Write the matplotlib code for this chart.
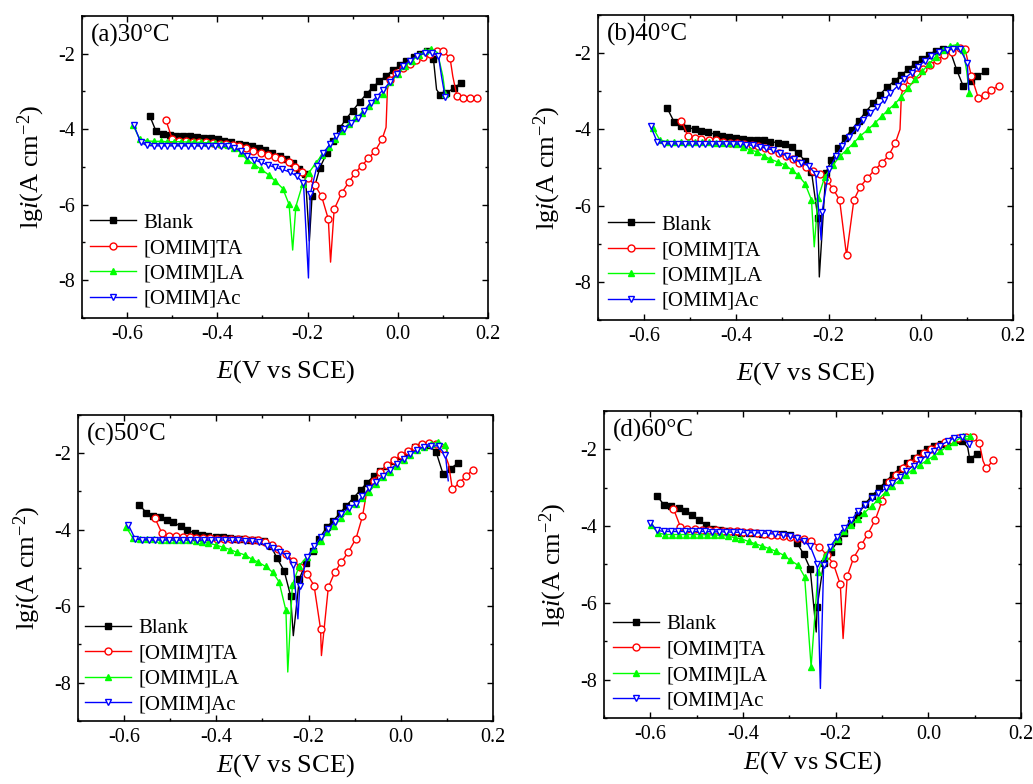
import matplotlib
matplotlib.use("Agg")
import matplotlib.pyplot as plt
from matplotlib.ticker import MultipleLocator

plt.rcParams['font.family'] = 'Liberation Serif'
plt.rcParams['mathtext.fontset'] = 'custom'
plt.rcParams['mathtext.rm'] = 'Liberation Serif'
plt.rcParams['mathtext.it'] = 'Liberation Serif:italic'
plt.rcParams['axes.unicode_minus'] = False

# ---- Tafel data: (E / V vs SCE, lg i) at the plotted symbols ----
# *_tip lists are points on the curve that carry no symbol (Ecorr spikes, jumps)

# (a) 30 C
a_blank = [(-0.550, -3.64), (-0.536, -4.05), (-0.520, -4.12), (-0.506, -4.15), (-0.492, -4.17),
           (-0.476, -4.18), (-0.461, -4.19), (-0.445, -4.20), (-0.430, -4.22), (-0.415, -4.24),
           (-0.399, -4.27), (-0.385, -4.30), (-0.369, -4.35), (-0.353, -4.38), (-0.338, -4.41),
           (-0.323, -4.44), (-0.308, -4.49), (-0.294, -4.54), (-0.279, -4.62), (-0.262, -4.70),
           (-0.247, -4.79), (-0.232, -4.90), (-0.218, -5.04), (-0.205, -5.19), (-0.190, -5.77),
           (-0.173, -5.03), (-0.157, -4.62), (-0.143, -4.30), (-0.129, -3.98), (-0.115, -3.73),
           (-0.100, -3.51), (-0.084, -3.27), (-0.069, -3.06), (-0.056, -2.89), (-0.041, -2.73),
           (-0.026, -2.58), (-0.011, -2.44), (0.004, -2.31), (0.018, -2.20), (0.035, -2.09),
           (0.049, -2.01), (0.064, -1.93), (0.079, -2.13), (0.094, -3.09), (0.108, -3.03),
           (0.125, -2.91), (0.140, -2.77)]
a_blank_tip = [(-0.196, -6.96), (0.086, -2.95)]

a_ta = [(-0.514, -3.76), (-0.500, -4.26), (-0.485, -4.30), (-0.470, -4.32), (-0.455, -4.33),
        (-0.440, -4.34), (-0.425, -4.35), (-0.410, -4.36), (-0.395, -4.38), (-0.380, -4.40),
        (-0.365, -4.42), (-0.351, -4.45), (-0.337, -4.49), (-0.320, -4.57), (-0.303, -4.64),
        (-0.287, -4.69), (-0.273, -4.74), (-0.258, -4.78), (-0.242, -4.86), (-0.227, -5.00),
        (-0.212, -5.13), (-0.198, -5.30), (-0.184, -5.48), (-0.169, -5.77), (-0.154, -6.38),
        (-0.141, -6.12), (-0.124, -5.68), (-0.109, -5.41), (-0.095, -5.16), (-0.080, -4.97),
        (-0.065, -4.77), (-0.050, -4.57), (-0.035, -4.27), (-0.018, -2.70), (-0.004, -2.52),
        (0.011, -2.38), (0.026, -2.26), (0.041, -2.16), (0.057, -2.08), (0.072, -2.01),
        (0.086, -1.92), (0.101, -1.93), (0.116, -2.12), (0.131, -3.11), (0.145, -3.17),
        (0.160, -3.18), (0.176, -3.18)]
a_ta_tip = [(-0.149, -7.52), (-0.026, -3.95), (-0.023, -2.95), (0.122, -2.60)]

a_la = [(-0.587, -3.89), (-0.572, -4.26), (-0.556, -4.31), (-0.541, -4.32), (-0.526, -4.32),
        (-0.511, -4.33), (-0.496, -4.33), (-0.481, -4.33), (-0.466, -4.34), (-0.451, -4.34),
        (-0.436, -4.35), (-0.421, -4.36), (-0.406, -4.37), (-0.391, -4.39), (-0.377, -4.42),
        (-0.362, -4.50), (-0.348, -4.62), (-0.334, -4.81), (-0.318, -4.94), (-0.303, -5.06),
        (-0.286, -5.21), (-0.272, -5.37), (-0.255, -5.57), (-0.241, -5.99), (-0.226, -6.05),
        (-0.211, -5.45), (-0.197, -5.15), (-0.182, -4.90), (-0.168, -4.68), (-0.153, -4.47),
        (-0.139, -4.25), (-0.124, -4.05), (-0.109, -3.85), (-0.094, -3.70), (-0.079, -3.56),
        (-0.064, -3.39), (-0.048, -3.22), (-0.033, -3.06), (-0.017, -2.76), (0.001, -2.53),
        (0.016, -2.33), (0.032, -2.18), (0.047, -2.04), (0.061, -1.93), (0.074, -1.87),
        (0.105, -3.06)]
a_la_tip = [(-0.233, -7.20), (0.088, -1.97), (0.100, -2.60)]

a_ac = [(-0.585, -3.89), (-0.570, -4.35), (-0.556, -4.43), (-0.541, -4.44), (-0.526, -4.44),
        (-0.511, -4.44), (-0.496, -4.44), (-0.481, -4.44), (-0.466, -4.44), (-0.451, -4.44),
        (-0.436, -4.44), (-0.421, -4.44), (-0.406, -4.44), (-0.391, -4.44), (-0.377, -4.45),
        (-0.363, -4.49), (-0.348, -4.58), (-0.334, -4.70), (-0.318, -4.81), (-0.303, -4.88),
        (-0.287, -4.95), (-0.272, -5.01), (-0.257, -5.06), (-0.240, -5.13), (-0.224, -5.24),
        (-0.209, -5.43), (-0.194, -5.72), (-0.179, -4.97), (-0.165, -4.63), (-0.150, -4.39),
        (-0.137, -4.19), (-0.120, -3.99), (-0.104, -3.84), (-0.089, -3.71), (-0.075, -3.51),
        (-0.060, -3.30), (-0.047, -3.14), (-0.032, -2.95), (-0.017, -2.75), (-0.002, -2.53),
        (0.012, -2.33), (0.027, -2.18), (0.042, -2.06), (0.060, -1.98), (0.075, -1.97),
        (0.090, -2.05), (0.105, -3.15)]
a_ac_tip = [(-0.198, -7.94), (0.097, -2.60)]

# (b) 40 C
b_blank = [(-0.550, -3.44), (-0.535, -3.80), (-0.521, -3.91), (-0.507, -3.95), (-0.490, -3.99),
           (-0.476, -4.03), (-0.461, -4.08), (-0.445, -4.13), (-0.430, -4.17), (-0.416, -4.21),
           (-0.400, -4.23), (-0.385, -4.26), (-0.371, -4.28), (-0.356, -4.29), (-0.340, -4.29),
           (-0.326, -4.32), (-0.309, -4.35), (-0.295, -4.38), (-0.280, -4.47), (-0.266, -4.63),
           (-0.251, -4.82), (-0.237, -5.11), (-0.223, -6.33), (-0.206, -5.15), (-0.194, -4.80),
           (-0.179, -4.50), (-0.165, -4.23), (-0.150, -4.01), (-0.134, -3.77), (-0.119, -3.53),
           (-0.103, -3.31), (-0.089, -3.09), (-0.073, -2.89), (-0.056, -2.72), (-0.042, -2.57),
           (-0.027, -2.42), (-0.013, -2.28), (0.003, -2.16), (0.018, -2.04), (0.033, -1.93),
           (0.049, -1.89), (0.063, -1.91), (0.078, -2.44), (0.092, -2.86), (0.108, -2.73),
           (0.123, -2.61), (0.139, -2.48)]
b_blank_tip = [(-0.220, -7.87)]

b_ta = [(-0.519, -3.77), (-0.505, -4.17), (-0.490, -4.23), (-0.476, -4.26), (-0.459, -4.28),
        (-0.443, -4.29), (-0.429, -4.32), (-0.414, -4.35), (-0.398, -4.36), (-0.384, -4.38),
        (-0.367, -4.41), (-0.353, -4.43), (-0.338, -4.48), (-0.324, -4.54), (-0.308, -4.61),
        (-0.293, -4.69), (-0.278, -4.78), (-0.264, -4.89), (-0.248, -4.99), (-0.233, -5.08),
        (-0.219, -5.17), (-0.204, -5.33), (-0.190, -5.56), (-0.176, -5.85), (-0.161, -7.30),
        (-0.145, -5.85), (-0.131, -5.50), (-0.116, -5.28), (-0.100, -5.06), (-0.085, -4.89),
        (-0.069, -4.67), (-0.055, -4.35), (-0.038, -2.90), (-0.024, -2.70), (-0.009, -2.54),
        (0.005, -2.42), (0.021, -2.31), (0.036, -2.18), (0.051, -2.04), (0.067, -1.96),
        (0.085, -1.87), (0.096, -1.89), (0.110, -2.61), (0.125, -3.18), (0.139, -3.09),
        (0.153, -2.96), (0.170, -2.86)]
b_ta_tip = [(-0.045, -4.00), (-0.042, -3.10)]

b_la = [(-0.580, -3.97), (-0.566, -4.28), (-0.550, -4.32), (-0.535, -4.33), (-0.520, -4.33),
        (-0.505, -4.33), (-0.490, -4.34), (-0.475, -4.34), (-0.460, -4.34), (-0.445, -4.35),
        (-0.430, -4.35), (-0.415, -4.36), (-0.400, -4.38), (-0.385, -4.45), (-0.371, -4.54),
        (-0.356, -4.58), (-0.340, -4.70), (-0.326, -4.78), (-0.309, -4.86), (-0.295, -4.93),
        (-0.280, -5.06), (-0.266, -5.20), (-0.251, -5.42), (-0.237, -5.85), (-0.223, -5.81),
        (-0.208, -5.24), (-0.190, -4.93), (-0.176, -4.71), (-0.161, -4.54), (-0.145, -4.35),
        (-0.131, -4.17), (-0.114, -4.00), (-0.100, -3.84), (-0.085, -3.66), (-0.071, -3.49),
        (-0.056, -3.33), (-0.042, -3.14), (-0.027, -2.92), (-0.013, -2.68), (0.003, -2.48),
        (0.018, -2.28), (0.033, -2.09), (0.049, -1.91), (0.063, -1.81), (0.078, -1.78),
        (0.092, -1.91), (0.105, -3.05)]
b_la_tip = [(-0.231, -7.08), (0.100, -2.50)]

b_ac = [(-0.586, -3.91), (-0.572, -4.32), (-0.557, -4.38), (-0.542, -4.38), (-0.527, -4.38),
        (-0.512, -4.38), (-0.497, -4.38), (-0.482, -4.38), (-0.467, -4.38), (-0.452, -4.38),
        (-0.437, -4.38), (-0.422, -4.38), (-0.407, -4.38), (-0.392, -4.39), (-0.378, -4.40),
        (-0.363, -4.42), (-0.349, -4.45), (-0.335, -4.50), (-0.320, -4.54), (-0.306, -4.61),
        (-0.291, -4.69), (-0.275, -4.78), (-0.259, -4.87), (-0.243, -4.96), (-0.228, -5.17),
        (-0.214, -6.16), (-0.199, -5.05), (-0.184, -4.71), (-0.170, -4.43), (-0.155, -4.19),
        (-0.139, -3.97), (-0.125, -3.75), (-0.110, -3.58), (-0.095, -3.42), (-0.080, -3.24),
        (-0.066, -3.05), (-0.050, -2.86), (-0.036, -2.68), (-0.020, -2.51), (-0.006, -2.35),
        (0.009, -2.20), (0.023, -2.07), (0.040, -1.96), (0.056, -1.91), (0.070, -1.89),
        (0.085, -1.89), (0.101, -2.26)]
b_ac_tip = [(-0.216, -6.90), (0.104, -2.96)]

# (c) 50 C
c_blank = [(-0.567, -3.35), (-0.552, -3.55), (-0.538, -3.63), (-0.522, -3.68), (-0.508, -3.74),
           (-0.493, -3.81), (-0.477, -3.91), (-0.463, -4.01), (-0.446, -4.09), (-0.432, -4.14),
           (-0.417, -4.16), (-0.401, -4.18), (-0.386, -4.20), (-0.370, -4.22), (-0.356, -4.23),
           (-0.342, -4.24), (-0.326, -4.26), (-0.311, -4.27), (-0.297, -4.29), (-0.282, -4.42),
           (-0.268, -4.75), (-0.253, -5.07), (-0.239, -5.72), (-0.220, -5.29), (-0.206, -4.87),
           (-0.191, -4.55), (-0.177, -4.24), (-0.161, -3.94), (-0.147, -3.77), (-0.132, -3.57),
           (-0.118, -3.37), (-0.102, -3.16), (-0.087, -2.96), (-0.073, -2.77), (-0.058, -2.59),
           (-0.044, -2.46), (-0.030, -2.33), (-0.014, -2.20), (0.001, -2.07), (0.016, -1.97),
           (0.030, -1.85), (0.046, -1.79), (0.061, -1.79), (0.077, -1.98), (0.092, -2.55),
           (0.108, -2.40), (0.124, -2.26)]
c_blank_tip = [(-0.233, -6.77)]

c_ta = [(-0.533, -3.70), (-0.518, -4.09), (-0.503, -4.16), (-0.488, -4.17), (-0.473, -4.18),
        (-0.457, -4.20), (-0.443, -4.21), (-0.428, -4.22), (-0.413, -4.22), (-0.398, -4.23),
        (-0.383, -4.23), (-0.368, -4.24), (-0.353, -4.24), (-0.338, -4.25), (-0.323, -4.26),
        (-0.309, -4.27), (-0.295, -4.31), (-0.280, -4.40), (-0.266, -4.50), (-0.249, -4.63),
        (-0.233, -4.81), (-0.218, -4.97), (-0.203, -5.16), (-0.188, -5.46), (-0.174, -6.59),
        (-0.157, -5.50), (-0.143, -5.11), (-0.129, -4.85), (-0.114, -4.59), (-0.097, -4.23),
        (-0.083, -3.65), (-0.058, -2.72), (-0.044, -2.50), (-0.030, -2.31), (-0.014, -2.18),
        (0.001, -2.05), (0.016, -1.94), (0.030, -1.85), (0.046, -1.77), (0.061, -1.72),
        (0.076, -1.76), (0.092, -1.90), (0.112, -2.94), (0.128, -2.77), (0.142, -2.59),
        (0.157, -2.43)]
c_ta_tip = [(-0.172, -7.29), (-0.074, -3.03), (0.104, -2.30)]

c_la = [(-0.596, -3.92), (-0.581, -4.22), (-0.565, -4.24), (-0.550, -4.25), (-0.535, -4.25),
        (-0.520, -4.26), (-0.505, -4.26), (-0.490, -4.27), (-0.475, -4.27), (-0.460, -4.28),
        (-0.445, -4.29), (-0.430, -4.31), (-0.417, -4.35), (-0.401, -4.40), (-0.385, -4.46),
        (-0.370, -4.52), (-0.355, -4.59), (-0.338, -4.66), (-0.323, -4.77), (-0.309, -4.85),
        (-0.293, -4.96), (-0.278, -5.11), (-0.264, -5.36), (-0.249, -6.11), (-0.235, -5.44),
        (-0.220, -4.94), (-0.204, -4.72), (-0.188, -4.50), (-0.174, -4.29), (-0.159, -4.07),
        (-0.144, -3.90), (-0.129, -3.70), (-0.114, -3.50), (-0.098, -3.33), (-0.083, -3.18),
        (-0.069, -3.01), (-0.054, -2.81), (-0.038, -2.63), (-0.024, -2.48), (-0.009, -2.33),
        (0.006, -2.18), (0.021, -2.05), (0.035, -1.92), (0.051, -1.83), (0.065, -1.77),
        (0.081, -1.70), (0.095, -1.79)]
c_la_tip = [(-0.245, -7.72), (0.101, -1.95)]

c_ac = [(-0.591, -3.87), (-0.576, -4.24), (-0.562, -4.26), (-0.547, -4.27), (-0.532, -4.27),
        (-0.517, -4.27), (-0.502, -4.27), (-0.487, -4.27), (-0.472, -4.27), (-0.457, -4.27),
        (-0.442, -4.27), (-0.427, -4.27), (-0.412, -4.27), (-0.397, -4.27), (-0.382, -4.27),
        (-0.367, -4.28), (-0.352, -4.28), (-0.337, -4.29), (-0.322, -4.30), (-0.307, -4.33),
        (-0.291, -4.42), (-0.277, -4.49), (-0.262, -4.57), (-0.246, -4.68), (-0.233, -4.92),
        (-0.219, -5.46), (-0.203, -4.72), (-0.188, -4.43), (-0.174, -4.20), (-0.157, -3.98),
        (-0.143, -3.79), (-0.129, -3.59), (-0.113, -3.43), (-0.098, -3.33), (-0.083, -3.13),
        (-0.069, -2.92), (-0.054, -2.75), (-0.038, -2.59), (-0.024, -2.43), (-0.009, -2.29),
        (0.006, -2.14), (0.021, -2.03), (0.035, -1.91), (0.051, -1.83), (0.066, -1.81),
        (0.082, -1.81), (0.097, -2.05)]
c_ac_tip = [(-0.223, -6.33), (0.103, -2.72)]

# (d) 60 C
d_blank = [(-0.585, -3.22), (-0.571, -3.44), (-0.555, -3.48), (-0.539, -3.53), (-0.525, -3.61),
           (-0.509, -3.72), (-0.495, -3.85), (-0.479, -3.98), (-0.465, -4.07), (-0.449, -4.11),
           (-0.434, -4.14), (-0.418, -4.15), (-0.404, -4.17), (-0.388, -4.18), (-0.374, -4.19),
           (-0.358, -4.20), (-0.343, -4.20), (-0.328, -4.20), (-0.314, -4.21), (-0.298, -4.24),
           (-0.284, -4.43), (-0.269, -4.73), (-0.255, -5.11), (-0.240, -6.11), (-0.226, -4.95),
           (-0.211, -4.67), (-0.196, -4.40), (-0.181, -4.17), (-0.166, -3.93), (-0.151, -3.70),
           (-0.137, -3.42), (-0.122, -3.22), (-0.107, -3.02), (-0.092, -2.84), (-0.077, -2.66),
           (-0.062, -2.50), (-0.047, -2.35), (-0.032, -2.22), (-0.017, -2.10), (-0.002, -1.99),
           (0.013, -1.92), (0.028, -1.85), (0.043, -1.80), (0.058, -1.76), (0.073, -1.78),
           (0.089, -2.24), (0.105, -2.13)]
d_blank_tip = [(-0.242, -6.76), (0.085, -1.95)]

d_ta = [(-0.550, -3.55), (-0.535, -4.02), (-0.520, -4.07), (-0.504, -4.08), (-0.489, -4.09),
        (-0.474, -4.10), (-0.459, -4.11), (-0.444, -4.12), (-0.429, -4.13), (-0.414, -4.14),
        (-0.399, -4.15), (-0.384, -4.16), (-0.369, -4.18), (-0.354, -4.20), (-0.339, -4.22),
        (-0.326, -4.24), (-0.314, -4.26), (-0.298, -4.28), (-0.284, -4.30), (-0.269, -4.33),
        (-0.253, -4.40), (-0.235, -4.54), (-0.219, -4.76), (-0.205, -4.98), (-0.190, -5.52),
        (-0.175, -5.30), (-0.161, -4.82), (-0.145, -4.50), (-0.131, -4.21), (-0.115, -3.85),
        (-0.100, -3.35), (-0.085, -2.85), (-0.070, -2.66), (-0.055, -2.49), (-0.040, -2.35),
        (-0.025, -2.22), (-0.010, -2.10), (0.005, -1.99), (0.020, -1.90), (0.035, -1.82),
        (0.050, -1.76), (0.065, -1.71), (0.082, -1.68), (0.096, -1.68), (0.110, -1.83),
        (0.125, -2.49), (0.140, -2.29)]
d_ta_tip = [(-0.184, -6.93), (0.118, -2.30)]

d_la = [(-0.598, -3.98), (-0.583, -4.18), (-0.568, -4.22), (-0.553, -4.22), (-0.538, -4.22),
        (-0.523, -4.22), (-0.508, -4.22), (-0.493, -4.22), (-0.478, -4.23), (-0.463, -4.23),
        (-0.448, -4.24), (-0.433, -4.26), (-0.418, -4.30), (-0.404, -4.33), (-0.388, -4.40),
        (-0.374, -4.46), (-0.358, -4.52), (-0.343, -4.59), (-0.328, -4.66), (-0.312, -4.76),
        (-0.298, -4.89), (-0.281, -5.02), (-0.267, -5.32), (-0.253, -7.67), (-0.238, -5.19),
        (-0.224, -4.78), (-0.210, -4.54), (-0.195, -4.33), (-0.181, -4.14), (-0.166, -3.96),
        (-0.152, -3.81), (-0.138, -3.65), (-0.122, -3.48), (-0.108, -3.30), (-0.092, -3.11),
        (-0.078, -2.95), (-0.062, -2.81), (-0.048, -2.66), (-0.034, -2.53), (-0.018, -2.40),
        (-0.003, -2.29), (0.012, -2.17), (0.026, -2.05), (0.042, -1.92), (0.056, -1.81),
        (0.074, -1.66), (0.090, -1.66)]
d_la_tip = []

d_ac = [(-0.600, -3.91), (-0.586, -4.11), (-0.571, -4.14), (-0.556, -4.14), (-0.541, -4.14),
        (-0.526, -4.14), (-0.511, -4.14), (-0.496, -4.14), (-0.481, -4.14), (-0.466, -4.15),
        (-0.451, -4.15), (-0.436, -4.15), (-0.421, -4.16), (-0.406, -4.16), (-0.391, -4.17),
        (-0.376, -4.17), (-0.361, -4.18), (-0.346, -4.19), (-0.331, -4.21), (-0.314, -4.24),
        (-0.298, -4.27), (-0.284, -4.31), (-0.269, -4.40), (-0.255, -4.52), (-0.240, -4.98),
        (-0.226, -5.02), (-0.212, -4.54), (-0.197, -4.28), (-0.181, -4.05), (-0.166, -3.85),
        (-0.152, -3.61), (-0.136, -3.46), (-0.122, -3.28), (-0.108, -3.15), (-0.092, -3.02),
        (-0.078, -2.87), (-0.062, -2.72), (-0.048, -2.57), (-0.032, -2.43), (-0.018, -2.29),
        (-0.003, -2.16), (0.012, -2.03), (0.026, -1.90), (0.042, -1.79), (0.056, -1.70),
        (0.072, -1.68), (0.087, -1.85)]
d_ac_tip = [(-0.233, -8.23), (0.090, -1.94)]

labels = ['Blank', '[OMIM]TA', '[OMIM]LA', '[OMIM]Ac']
titles = ['(a)30°C', '(b)40°C', '(c)50°C', '(d)60°C']

panels = [
    ([a_blank, a_ta, a_la, a_ac], [a_blank_tip, a_ta_tip, a_la_tip, a_ac_tip]),
    ([b_blank, b_ta, b_la, b_ac], [b_blank_tip, b_ta_tip, b_la_tip, b_ac_tip]),
    ([c_blank, c_ta, c_la, c_ac], [c_blank_tip, c_ta_tip, c_la_tip, c_ac_tip]),
    ([d_blank, d_ta, d_la, d_ac], [d_blank_tip, d_ta_tip, d_la_tip, d_ac_tip]),
]

# line colour, marker, marker face
styles = [('black', 's', 'black'),
          ('#ff0000', 'o', 'white'),
          ('#00ff00', '^', '#00ff00'),
          ('#0000ff', 'v', 'white')]

# axes rectangles [left, bottom, width, height] in figure fraction
rects = [[0.0794, 0.5944, 0.3930, 0.3852],
         [0.5789, 0.5918, 0.4017, 0.3890],
         [0.0755, 0.0804, 0.4017, 0.3903],
         [0.5847, 0.0842, 0.4037, 0.3916]]
leg_xy = [(0.020, 0.030), (0.024, 0.030), (0.017, 0.022), (0.022, 0.024)]
xpads = [10, 10, 4, 4]

fig = plt.figure(figsize=(10.33, 7.84), dpi=100)

for k, (series, tips) in enumerate(panels):
    ax = fig.add_axes(rects[k])
    for pts, tip, lab, (col, mk, mfc) in zip(series, tips, labels, styles):
        curve = sorted(pts + tip)
        marked = set(pts)
        every = [i for i, p in enumerate(curve) if p in marked]
        E = [p[0] for p in curve]
        lg = [p[1] for p in curve]
        ax.plot(E, lg, color=col, lw=1.0, marker=mk, ms=5, mfc=mfc, mec=col,
                mew=1.0, markevery=every, label=lab)

    ax.set_xlim(-0.7, 0.2)
    ax.set_ylim(-9, -1)
    ax.xaxis.set_major_locator(MultipleLocator(0.2))
    ax.xaxis.set_minor_locator(MultipleLocator(0.1))
    ax.yaxis.set_major_locator(MultipleLocator(2))
    ax.yaxis.set_minor_locator(MultipleLocator(1))
    ax.set_xticks([-0.6, -0.4, -0.2, 0.0, 0.2])
    ax.set_xticklabels(['-0.6', '-0.4', '-0.2', '0.0', '0.2'])
    ax.set_yticks([-8, -6, -4, -2])
    ax.set_yticklabels(['-8', '-6', '-4', '-2'])
    ax.tick_params(which='both', direction='in', top=True, right=True, labelsize=14.5, width=1.0)
    ax.tick_params(which='major', length=4.5, pad=5)
    ax.tick_params(which='minor', length=2.5)
    for s in ax.spines.values():
        s.set_linewidth(1.2)

    ax.set_xlabel(r'$E$(V vs SCE)', fontsize=19, labelpad=xpads[k])
    ax.set_ylabel(r'lg$i$(A cm$^{-2}$)', fontsize=19, labelpad=8)
    ax.text(0.022, 0.975, titles[k], transform=ax.transAxes, ha='left', va='top', fontsize=18)

    ax.legend(loc='lower left', bbox_to_anchor=leg_xy[k], frameon=False, fontsize=15,
              handlelength=2.2, handletextpad=0.35, labelspacing=0.28,
              borderpad=0, borderaxespad=0)

fig.savefig('out.png', dpi=100)
